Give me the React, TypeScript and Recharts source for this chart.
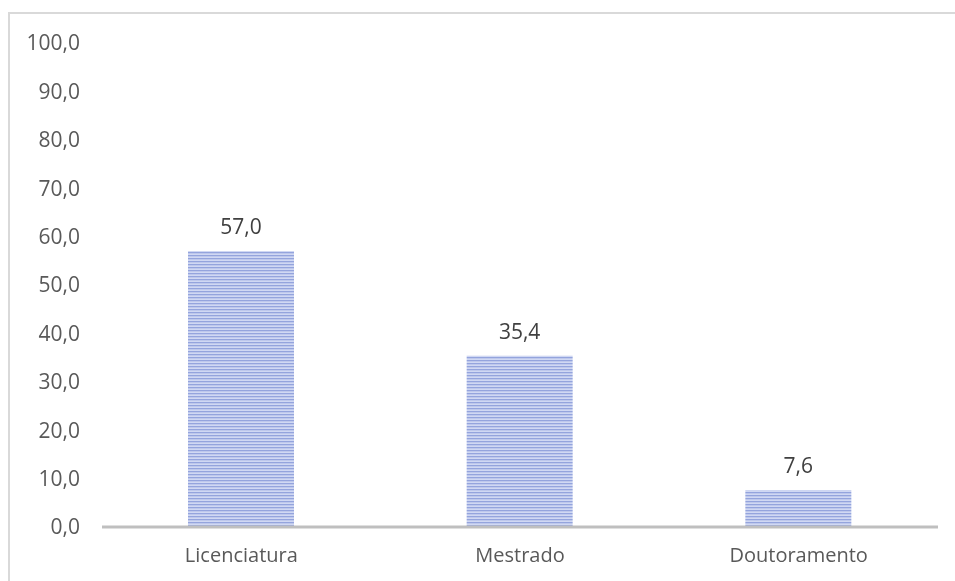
import React from "react";
import { BarChart, Bar, XAxis, YAxis, LabelList } from "recharts";

const categories = ["Licenciatura", "Mestrado", "Doutoramento"];
const values = [57.0, 35.4, 7.6];
const yTicks = [0, 10, 20, 30, 40, 50, 60, 70, 80, 90, 100];

const data = categories.map((name, i) => ({ name, value: values[i] }));

const fmt = (v: number) => v.toFixed(1).replace(".", ",");

export default function App() {
  return (
    <div
      style={{
        position: "fixed",
        left: 8,
        top: 12,
        width: 960,
        height: 580,
        borderTop: "2px solid #d9d9d9",
        borderLeft: "2px solid #d9d9d9",
        boxSizing: "border-box",
        overflow: "hidden",
        fontFamily: "'Open Sans', 'Noto Sans', sans-serif",
      }}
    >
      <BarChart
        width={945}
        height={559}
        data={data}
        margin={{ top: 29, right: 17, left: 0, bottom: 6 }}
        barSize={106}
      >
        <defs>
          <pattern id="stripes" width="6" height="3" patternUnits="userSpaceOnUse">
            <rect width="6" height="3" fill="#d0d8f3" />
            <rect y="1" width="6" height="1.3" fill="#94a4dd" />
          </pattern>
        </defs>
        <XAxis
          dataKey="name"
          tickLine={false}
          tickSize={0}
          tickMargin={21}
          axisLine={{ stroke: "#bfbfbf", strokeWidth: 3 }}
          tick={{ fill: "#595959", fontSize: 20 }}
          height={40}
        />
        <YAxis
          domain={[0, 100]}
          ticks={yTicks}
          interval={0}
          width={92}
          axisLine={false}
          tickLine={false}
          tickSize={0}
          tickMargin={22}
          tickFormatter={fmt}
          tick={{ fill: "#595959", fontSize: 21 }}
        />
        <Bar dataKey="value" fill="url(#stripes)" isAnimationActive={false}>
          <LabelList
            dataKey="value"
            position="top"
            offset={17}
            formatter={(v: any) => fmt(Number(v))}
            style={{ fill: "#404040", fontSize: 21 }}
          />
        </Bar>
      </BarChart>
    </div>
  );
}
